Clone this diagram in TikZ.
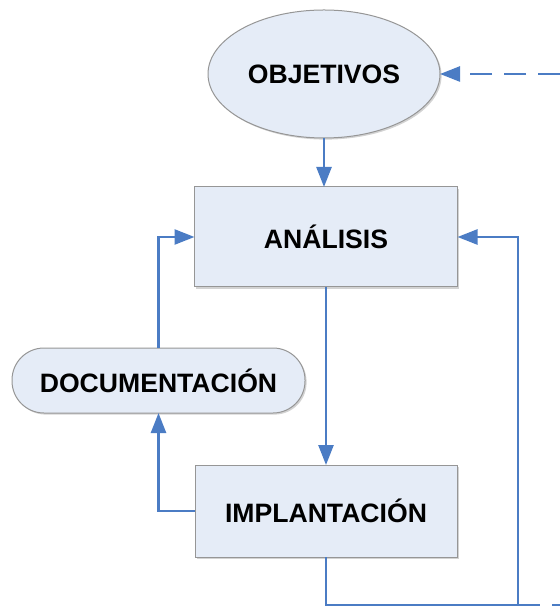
\documentclass[tikz,border=0pt]{standalone}
\usepackage{fontspec}
\setmainfont{Liberation Sans}
\usetikzlibrary{arrows.meta}
\usetikzlibrary{shapes.geometric}
\usetikzlibrary{shadows}

\definecolor{flujo}{RGB}{75,124,196}
\definecolor{relleno}{RGB}{229,236,247}
\definecolor{borde}{RGB}{150,150,150}

\tikzset{
  caja/.style={draw=borde,fill=relleno,line width=0.5pt,inner sep=0pt,outer sep=0pt,
    font=\fontsize{13.3}{16}\selectfont\bfseries,
    drop shadow={shadow xshift=0.8pt,shadow yshift=-0.8pt,opacity=0.35}},
  conn/.style={->,draw=flujo,line width=1.25pt},
  linea/.style={draw=flujo,line width=1.25pt},
  trazos/.style={dash pattern=on 11pt off 6pt}
}

\begin{document}
\begin{tikzpicture}[line join=miter,>={Triangle[length=10pt,width=7.5pt]},x=0.5pt,y=-0.5pt]
\useasboundingbox (0,0) rectangle (560,608);
% nodos
\node[caja,ellipse,minimum width=116pt,minimum height=64pt] (obj) at (324,74) {OBJETIVOS};
\node[caja,rectangle,minimum width=131.5pt,minimum height=50pt] (ana) at (326,237) {ANÁLISIS};
\node[caja,rectangle,minimum width=131pt,minimum height=46pt] (imp) at (326,511) {IMPLANTACIÓN};
\node[caja,rectangle,rounded corners=16pt,minimum width=146.5pt,minimum height=32.5pt] (doc) at (158.5,380.5) {DOCUMENTACIÓN};
\coordinate (entrada) at (560,74);
\coordinate (esquina) at (518,605);
\coordinate (salida) at (560,605);
% conectores
\draw[conn,trazos] (entrada) -- (obj.east);
\draw[conn] (obj.south) -- (obj.south |- ana.north);
\draw[conn] (ana.south) -- (imp.north);
\draw[conn] (imp.west) -| (doc.south);
\draw[conn] (doc.north) |- (ana.west);
\draw[conn] (imp.south) |- (esquina) |- (ana.east);
\draw[linea,trazos] (esquina) -- (salida);
\end{tikzpicture}
\end{document}
